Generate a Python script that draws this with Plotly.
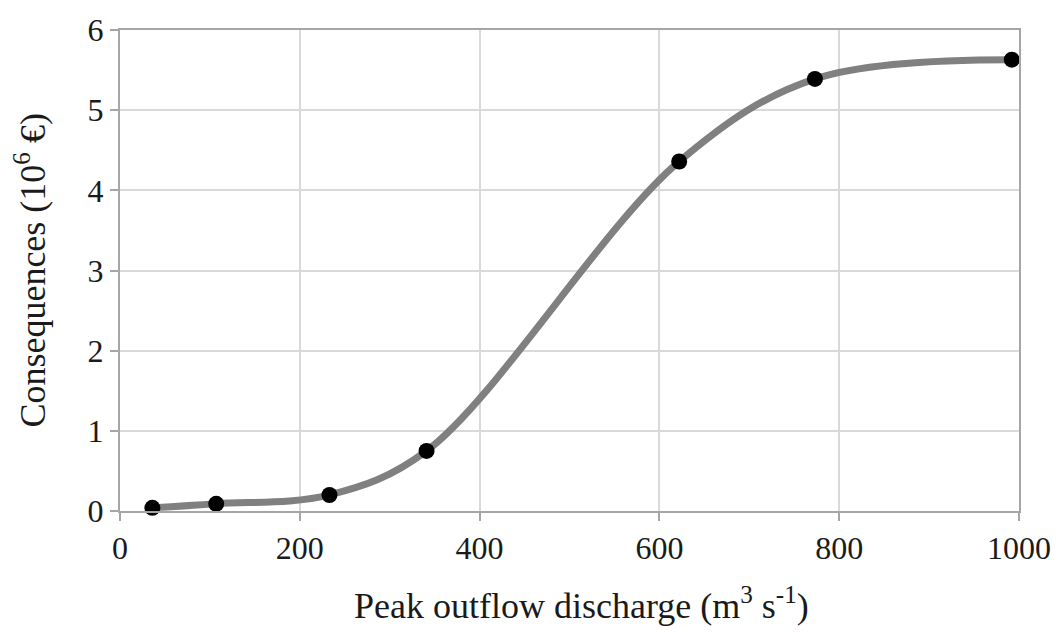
import plotly.graph_objects as go

discharge = [36, 107, 233, 341, 622, 773, 992]
consequences = [0.04, 0.09, 0.2, 0.75, 4.36, 5.39, 5.63]

x_ticks = [0, 200, 400, 600, 800, 1000]
y_ticks = [0, 1, 2, 3, 4, 5, 6]

x_title = "Peak outflow discharge (m<sup>3</sup> s<sup>-1</sup>)"
y_title = "Consequences (10<sup>6</sup> €)"

font_family = "Liberation Serif, Times New Roman, serif"
text_color = "#1a1a1a"

fig = go.Figure()
fig.add_trace(go.Scatter(
    x=discharge, y=consequences, mode="lines",
    line=dict(color="#808080", width=7, shape="spline", smoothing=1.0),
    hoverinfo="skip", showlegend=False,
))
fig.add_trace(go.Scatter(
    x=discharge, y=consequences, mode="markers",
    marker=dict(color="black", size=16),
    cliponaxis=False, showlegend=False,
))

axis_common = dict(
    showgrid=True, gridcolor="#d9d9d9", gridwidth=2,
    showline=True, linecolor="#a6a6a6", linewidth=2, mirror=True,
    ticks="outside", ticklen=8, tickwidth=2, tickcolor="#a6a6a6",
    zeroline=False,
    tickfont=dict(family=font_family, size=32, color=text_color),
)

fig.update_layout(
    width=1063, height=632,
    margin=dict(l=120, r=43, t=23, b=121),
    paper_bgcolor="white", plot_bgcolor="white",
    font=dict(family=font_family, color=text_color),
    xaxis=dict(range=[0, 1000], tickvals=x_ticks, **axis_common),
    yaxis=dict(range=[0, 6], tickvals=y_ticks, **axis_common),
    annotations=[
        dict(text=x_title, xref="paper", yref="paper", x=0.513, y=-0.192,
             xanchor="center", yanchor="middle", showarrow=False,
             font=dict(family=font_family, size=36, color=text_color)),
        dict(text=y_title, xref="paper", yref="paper", x=-0.1, y=0.5,
             xanchor="center", yanchor="middle", showarrow=False, textangle=-90,
             font=dict(family=font_family, size=36, color=text_color)),
    ],
)

fig.write_html("out.html")
